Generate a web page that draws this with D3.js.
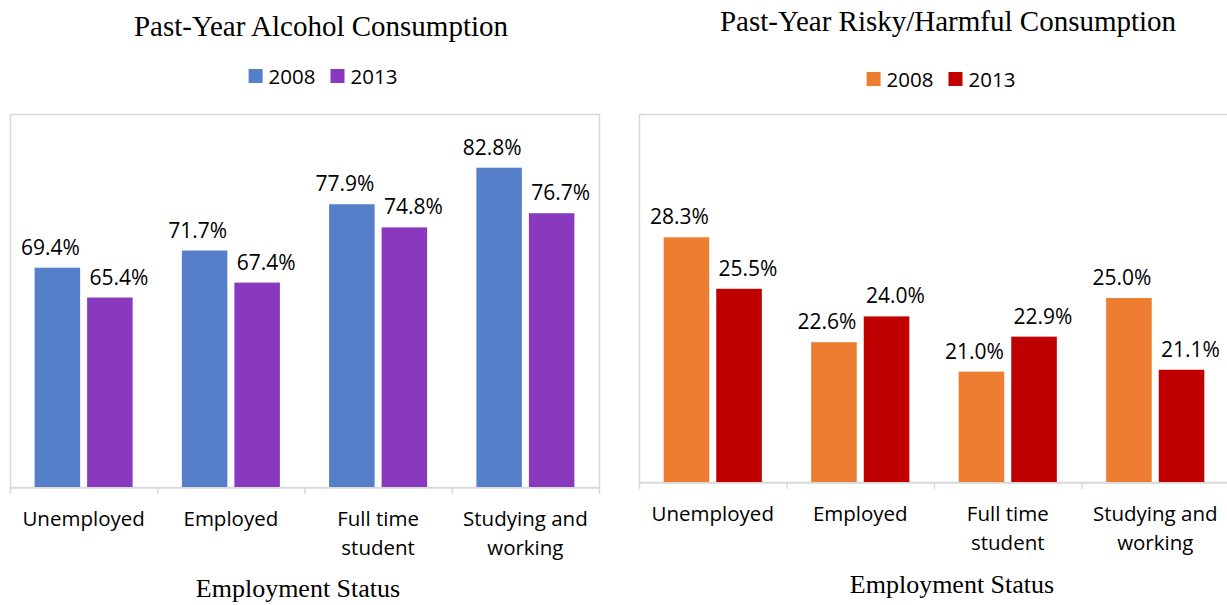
<!DOCTYPE html>
<html>
<head>
<meta charset="utf-8">
<script src="https://cdn.jsdelivr.net/npm/d3@7"></script>
<style>
  html, body { margin: 0; padding: 0; background: #fff; }
  svg { display: block; }
  .sans { font-family: "Open Sans", "Noto Sans", sans-serif; fill: #000; }
  .serif { font-family: "Liberation Serif", "Times New Roman", serif; fill: #000; }
</style>
</head>
<body>
<svg id="chart" width="1227" height="605"></svg>
<script>
// Employment status groups shared by both charts
const categories = ["Unemployed", "Employed", "Full time student", "Studying and working"];
const years = ["2008", "2013"];

// Past-year alcohol consumption (%)
const alcohol2008 = [69.4, 71.7, 77.9, 82.8];
const alcohol2013 = [65.4, 67.4, 74.8, 76.7];

// Past-year risky/harmful consumption (%)
const risky2008 = [28.3, 22.6, 21.0, 25.0];
const risky2013 = [25.5, 24.0, 22.9, 21.1];

const svg = d3.select("#chart");

function drawPanel(cfg) {
  const g = svg.append("g");
  const { left, right, top, bottom } = cfg.box;

  const x0 = d3.scaleBand().domain(categories).range([left, right]).paddingInner(0).paddingOuter(0);
  const x1 = d3.scaleBand().domain(years).range([0, x0.bandwidth()])
    .paddingInner(0.1333).paddingOuter(0.469);
  const y = d3.scaleLinear().domain(cfg.yDomain).range([bottom, top]);

  // plot area frame
  g.append("rect")
    .attr("x", left + 0.5).attr("y", top + 0.5)
    .attr("width", right - left).attr("height", bottom - top)
    .attr("fill", "none").attr("stroke", "#d9d9d9").attr("stroke-width", 1.5);

  // bars
  const rows = categories.map((c, i) => ({ c, vals: [cfg.series[0][i], cfg.series[1][i]] }));
  const grp = g.selectAll(".grp").data(rows).join("g")
    .attr("transform", d => `translate(${x0(d.c)},0)`);

  grp.selectAll("rect").data(d => d.vals.map((v, k) => ({ k, v })))
    .join("rect")
    .attr("x", d => x1(years[d.k]))
    .attr("y", d => y(d.v))
    .attr("width", x1.bandwidth())
    .attr("height", d => y(cfg.yDomain[0]) - y(d.v))
    .attr("fill", d => cfg.colors[d.k]);

  // value labels
  grp.selectAll("text").data(d => d.vals.map((v, k) => ({ k, v })))
    .join("text")
    .attr("class", "sans")
    .attr("font-size", 21)
    .attr("text-anchor", "middle")
    .attr("x", d => x1(years[d.k]) + x1.bandwidth() / 2 + (d.k === 0 ? -7 : 9))
    .attr("y", d => y(d.v) - 13)
    .text(d => d.v.toFixed(1) + "%");

  // category axis
  const axis = g.append("g").attr("transform", `translate(0,${bottom + 0.5})`)
    .call(d3.axisBottom(x0).tickSize(0).tickFormat(""));
  axis.select(".domain").attr("stroke", "#d9d9d9").attr("stroke-width", 1.5);
  const bounds = categories.map(c => x0(c)).concat([right]);
  g.selectAll(".tick-mark").data(bounds).join("line")
    .attr("x1", d => d + 0.5).attr("x2", d => d + 0.5)
    .attr("y1", bottom).attr("y2", bottom + 7)
    .attr("stroke", "#d9d9d9").attr("stroke-width", 1.5);

  const labels = g.selectAll(".cat").data(categories).join("text")
    .attr("class", "sans")
    .attr("font-size", 20.5)
    .attr("text-anchor", "middle")
    .attr("x", d => x0(d) + x0.bandwidth() / 2)
    .attr("y", bottom + cfg.catOffset);
  labels.each(function (d) {
    const t = d3.select(this);
    const words = d.split(" ");
    let line = [], lines = [];
    const probe = t.append("tspan");
    words.forEach(w => {
      const trial = line.concat([w]).join(" ");
      probe.text(trial);
      if (probe.node().getComputedTextLength() > 140 && line.length) {
        lines.push(line.join(" "));
        line = [w];
      } else {
        line.push(w);
      }
    });
    lines.push(line.join(" "));
    probe.remove();
    lines.forEach((l, i) => {
      t.append("tspan").attr("x", x0(d) + x0.bandwidth() / 2).attr("dy", i === 0 ? 0 : 29).text(l);
    });
  });

  // title
  g.append("text").attr("class", "serif").attr("font-size", 29)
    .attr("text-anchor", "middle")
    .attr("x", cfg.titleX).attr("y", cfg.titleY)
    .text(cfg.title);

  // legend
  const lg = g.append("g");
  const items = lg.selectAll("g").data(years).join("g");
  items.append("rect").attr("width", 14).attr("height", 14).attr("fill", (d, i) => cfg.colors[i]);
  items.append("text").attr("class", "sans").attr("font-size", 20.5)
    .attr("x", 20).attr("y", 14.5).text(d => d);
  let xpos = 0;
  items.each(function () {
    d3.select(this).attr("transform", `translate(${xpos},0)`);
    xpos += this.getBBox().width + 15;
  });
  const lw = xpos - 15;
  lg.attr("transform", `translate(${cfg.legendCx - lw / 2},${cfg.legendY})`);

  // axis title
  g.append("text").attr("class", "serif").attr("font-size", 26)
    .attr("text-anchor", "middle")
    .attr("x", cfg.axisTitleX).attr("y", cfg.axisTitleY)
    .text("Employment Status");
}

drawPanel({
  box: { left: 10, right: 599, top: 114, bottom: 487 },
  yDomain: [40, 90],
  series: [alcohol2008, alcohol2013],
  colors: ["#557fc9", "#8839be"],
  title: "Past-Year Alcohol Consumption",
  titleX: 321, titleY: 36,
  legendCx: 323, legendY: 69,
  catOffset: 39,
  axisTitleX: 298, axisTitleY: 597
});

drawPanel({
  box: { left: 639, right: 1229, top: 114, bottom: 482 },
  yDomain: [15, 35],
  series: [risky2008, risky2013],
  colors: ["#ed7d31", "#c00000"],
  title: "Past-Year Risky/Harmful Consumption",
  titleX: 948, titleY: 31,
  legendCx: 941, legendY: 72,
  catOffset: 39,
  axisTitleX: 952, axisTitleY: 593
});
</script>
</body>
</html>
